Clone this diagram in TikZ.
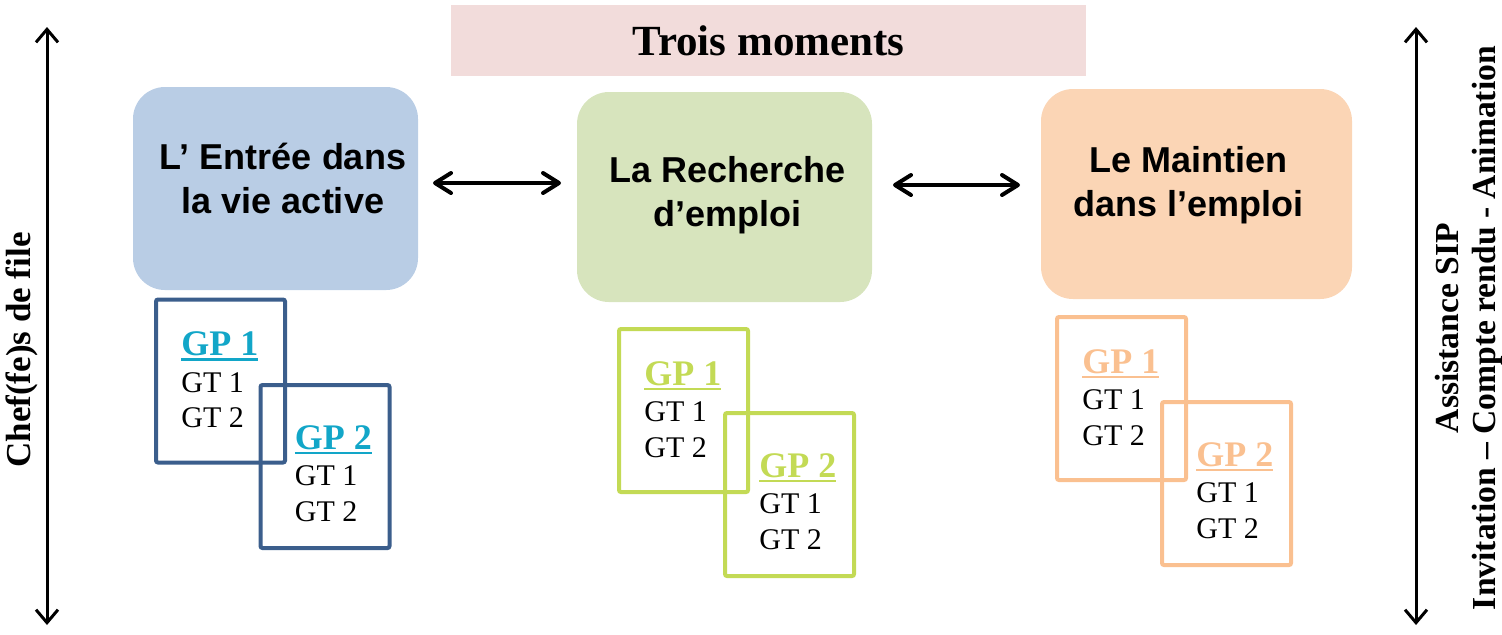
\documentclass[tikz,border=0pt]{standalone}
\usepackage{fontspec}
\setmainfont{Liberation Serif}
\setsansfont{Liberation Sans}
\usepackage{xcolor}
\usepackage{tikz}
\usetikzlibrary{arrows.meta,positioning,calc}

\definecolor{titlepink}{HTML}{F2DCDB}
\definecolor{entreeblue}{HTML}{B9CDE5}
\definecolor{rechgreen}{HTML}{D7E4BD}
\definecolor{maintpeach}{HTML}{FBD5B5}
\definecolor{gpblue}{HTML}{3B5E8C}
\definecolor{gpcyan}{HTML}{12A6C8}
\definecolor{gpgreen}{HTML}{C3DA55}
\definecolor{gppeach}{HTML}{FAC090}

\newcommand{\gpline}[1]{\setbox0=\hbox{#1}\rlap{\rule[-2.6pt]{\wd0}{1.3pt}}\box0}

\begin{document}
\begin{tikzpicture}[
    x=0.5pt, y=-0.5pt,
    titlebox/.style={rectangle, fill=titlepink, minimum width=317.5pt, minimum height=35.5pt, inner sep=0pt, outer sep=0pt, font=\bfseries\fontsize{21.5}{24}\selectfont},
    moment/.style={rectangle, rounded corners=16pt, inner sep=0pt, outer sep=0pt},
    momtext/.style={align=center, font=\sffamily\bfseries\fontsize{18}{22}\selectfont},
    gpframe/.style={rectangle, draw, line width=2pt, rounded corners=1pt, minimum width=64.5pt, minimum height=81.5pt, inner sep=0pt, outer sep=0pt, anchor=north west},
    gptitle/.style={anchor=base west, inner sep=0pt, font=\bfseries\fontsize{18}{20}\selectfont},
    gtline/.style={anchor=base west, inner sep=0pt, font=\fontsize{15}{18}\selectfont},
    sidelabel/.style={rotate=90, align=center, inner sep=0pt},
    biarrow/.style={{Straight Barb[length=6.5pt,width=11pt]}-{Straight Barb[length=6.5pt,width=11pt]}, line width=1.5pt},
    linkarrow/.style={{Straight Barb[length=8pt,width=10pt,round]}-{Straight Barb[length=8pt,width=10pt,round]}, line width=2pt}
]
    \useasboundingbox (0,0) rectangle (1502,634);

    % Title
    \node[titlebox] (titre) at (768.5,40.5) {Trois moments};

    % Side axes
    \coordinate (ltop) at (47,27);
    \coordinate (lbot) at (47,625);
    \draw[biarrow] (ltop) -- (lbot);
    \node[sidelabel, font=\bfseries\fontsize{17.5}{20}\selectfont] (chefs) at (22,350) {Chef(fe)s de file};

    \coordinate (rtop) at (1416,27);
    \coordinate (rbot) at (1416,625);
    \draw[biarrow] (rtop) -- (rbot);
    \node[sidelabel, font=\bfseries\fontsize{16.8}{18.5}\selectfont] (sip) at (1469,328) {Assistance SIP\\Invitation -- Compte rendu - Animation};

    % Moments
    \node[moment, fill=entreeblue, minimum width=142.5pt, minimum height=101.5pt] (entree) at (275.5,188.5) {};
    \node[moment, fill=rechgreen, minimum width=147.5pt, minimum height=105pt] (recherche) at (724.5,197) {};
    \node[moment, fill=maintpeach, minimum width=155.5pt, minimum height=105pt] (maintien) at (1196.5,194) {};

    \node[momtext] (entree-t) at ($(entree)+(7.5,-10)$) {L’ Entrée dans\\la vie active};
    \node[momtext] (recherche-t) at ($(recherche)+(3,-1.5)$) {La Recherche\\d’emploi};
    \node[momtext] (maintien-t) at ($(maintien)+(-8,-9)$) {Le Maintien\\dans l’emploi};

    \draw[linkarrow, shorten <=7.5pt, shorten >=8pt] ([yshift=2.75pt]entree.east) -- ([yshift=2.75pt]entree.east -| recherche.west);
    \draw[linkarrow, shorten <=10.5pt, shorten >=10.5pt] ([yshift=6pt]recherche.east) -- ([yshift=6pt]recherche.east -| maintien.west);

    % Groups
    \foreach \nm/\fx/\fy/\fc/\tc/\idx/\dx/\dy in {
        entA/156/299.5/gpblue/gpcyan/1/25/56, entB/260.5/385/gpblue/gpcyan/2/34/64,
        rchA/619/329/gpgreen/gpgreen/1/25/56, rchB/725/413/gpgreen/gpgreen/2/34/64,
        mntA/1057/317/gppeach/gppeach/1/25/56, mntB/1162/402/gppeach/gppeach/2/34/64} {
        \node[gpframe, draw=\fc] (\nm) at (\fx,\fy) {};
        \node[gptitle, text=\tc] (\nm-gp) at ($(\nm.north west)+(\dx,\dy)$) {\gpline{GP \idx}};
        \node[gtline] (\nm-t1) at ($(\nm-gp.base west)+(0,36.5)$) {GT 1};
        \node[gtline] (\nm-t2) at ($(\nm-t1.base west)+(0,35.5)$) {GT 2};
    }
\end{tikzpicture}
\end{document}
